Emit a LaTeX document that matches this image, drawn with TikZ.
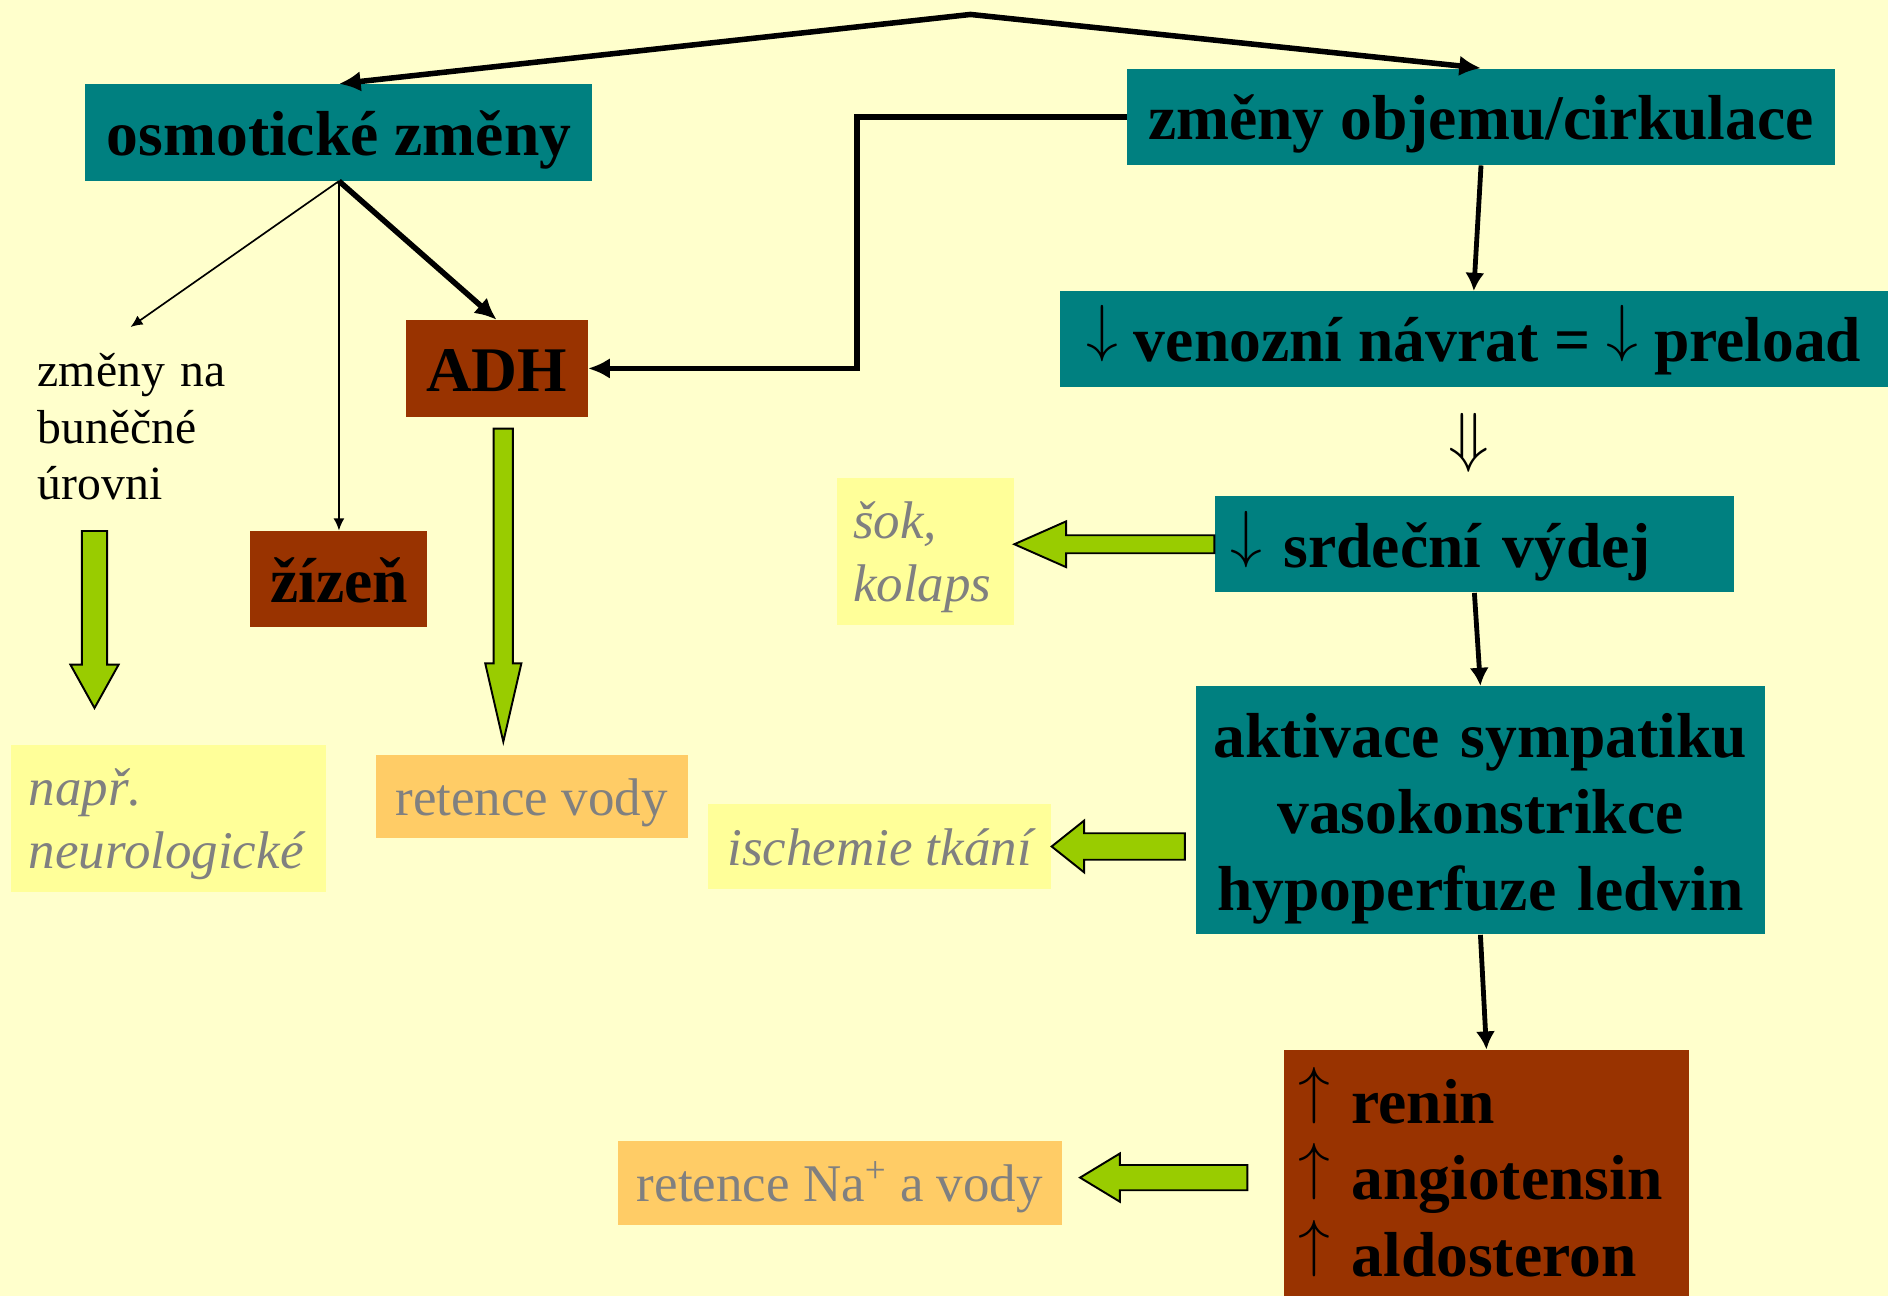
\documentclass[tikz,border=0pt]{standalone}
\usepackage{fontspec}
\setmainfont{Liberation Serif}
\usetikzlibrary{arrows.meta,calc}
\DeclareFontShape{OMS}{cmsy}{m}{n}{<-6>cmsy5<6-7>cmsy6<7-8>cmsy7<8-9>cmsy8<9-10>cmsy9<10->cmsy10}{}
\DeclareFontShape{OML}{cmm}{m}{it}{<-6>cmmi5<6-7>cmmi6<7-8>cmmi7<8-9>cmmi8<9-10>cmmi9<10-12>cmmi10<12->cmmi12}{}
\definecolor{bgyellow}{HTML}{FFFFCC}
\definecolor{boxteal}{HTML}{008080}
\definecolor{boxbrown}{HTML}{993300}
\definecolor{noteyellow}{HTML}{FFFF99}
\definecolor{noteorange}{HTML}{FFCC66}
\definecolor{notegray}{HTML}{808080}
\definecolor{arrowgreen}{HTML}{99CC00}
\newcommand{\arrdown}{\raisebox{0.19em}{$\downarrow$}}
\newcommand{\arrup}{\raisebox{0.19em}{$\uparrow$}}

\begin{document}
\begin{tikzpicture}
[every node/.style={inner sep=0pt},
 teal box/.style={fill=boxteal, font=\bfseries\fontsize{26.4}{31.75}\selectfont, text height=21pt, text depth=2pt, minimum height=40pt},
 brown box/.style={teal box, fill=boxbrown},
 note/.style={text=notegray, font=\fontsize{22}{26.25}\selectfont, text height=17pt, text depth=1.5pt},
 orange note/.style={note, fill=noteorange},
 italic note/.style={note, fill=noteyellow, font=\itshape\fontsize{22}{26.25}\selectfont},
 main line/.style={line width=2.3pt, >={Latex[length=9pt,width=8.5pt]}},
 chain line/.style={line width=2pt, >={Latex[length=7.5pt,width=8pt]}},
 thin line/.style={line width=0.7pt, >={Latex[length=5pt,width=4.5pt]}},
 fat arrow/.style n args={3}{draw=black, line width=0.8pt, fill=arrowgreen, line join=miter,
   to path={($(\tikztostart)!#1!90:(\tikztotarget)$) -- ($(\tikztotarget)!#3!(\tikztostart)!#1!90:(\tikztotarget)$) -- ($(\tikztotarget)!#3!(\tikztostart)!#2!90:(\tikztotarget)$) -- (\tikztotarget) -- ($(\tikztotarget)!#3!(\tikztostart)!#2!-90:(\tikztotarget)$) -- ($(\tikztotarget)!#3!(\tikztostart)!#1!-90:(\tikztotarget)$) -- ($(\tikztostart)!#1!-90:(\tikztotarget)$) -- cycle}}]
\useasboundingbox [fill=bgyellow] (0pt, 0pt) rectangle (784pt, -538pt);
\node (osm) [teal box, minimum width=210.5pt] at (140.75pt, -55pt) {osmotické změny};
\node (objem) [teal box, minimum width=294pt] at (615pt, -48.5pt) {změny objemu/cirkulace};
\node (adh) [brown box, minimum width=75.5pt] at (206.25pt, -153pt) {ADH};
\node (zizen) [brown box, minimum width=73.5pt] at (140.75pt, -240.5pt) {žízeň};
\node (venoz) [teal box, minimum width=344pt, minimum height=39.5pt] at (612pt, -140.75pt) {\arrdown{} venozní návrat = \arrdown{} preload};
\node (dbl) [font=\fontsize{27.6}{33}\selectfont] at (610pt, -184pt) {$\Downarrow$};
\node (srdecni) [teal box, minimum width=215.5pt, text width=202.5pt, align=left] at (612.25pt, -226pt) {\arrdown{} srdeční výdej};
\node (aktivace) [teal box, minimum width=236.5pt, minimum height=103pt, text width=236.5pt, align=center, text height=20pt, text depth=64pt] at (614.75pt, -336.5pt) {aktivace sympatiku\\vasokonstrikce\\hypoperfuze ledvin};
\node (renin) [brown box, minimum width=168.5pt, minimum height=102pt, text width=156pt, align=left, text height=20pt, text depth=61pt] at (617.25pt, -487pt) {\arrup{} renin\\\arrup{} angiotensin\\\arrup{} aldosteron};
\node (zmeny) [anchor=base west, text width=80pt, align=left, text height=14pt, font=\fontsize{19.8}{23.5}\selectfont] at (15.5pt, -160.5pt) {změny na\\buněčné\\úrovni};
\node (napr) [italic note, minimum width=131pt, minimum height=61pt, text width=116pt, align=left, text height=16pt, text depth=27pt] at (70pt, -340pt) {např.\\neurologické};
\node (retvody) [orange note, minimum width=129.5pt, minimum height=34.5pt] at (220.75pt, -330.75pt) {retence vody};
\node (sok) [italic note, minimum width=73.5pt, minimum height=61pt, text width=60pt, align=left, text height=16pt, text depth=27pt] at (384.25pt, -229pt) {šok,\\kolaps};
\node (ischemie) [italic note, minimum width=142.5pt, minimum height=35pt] at (365.25pt, -351.5pt) {ischemie tkání};
\node (retna) [orange note, minimum width=184.5pt, minimum height=34.5pt] at (348.75pt, -491.25pt) {retence Na\textsuperscript{+} a vody};
\coordinate (apex) at (403pt, -6pt);
\coordinate (celltail) at (39.25pt, -220.5pt);
\coordinate (celltip) at (39.25pt, -294pt);
\coordinate (adhtail) at (209pt, -178pt);
\coordinate (adhtip) at (209pt, -308pt);
\coordinate (soktip) at (sok.east |- srdecni.west);
\coordinate (ischtail) at (492pt, -351.5pt);
\coordinate (natail) at (518pt, -489pt);
\coordinate (natip) at (448.5pt, -489pt);
\draw [main line, <->] (osm.north) -- (apex) -- (objem.north);
\draw [main line, ->] (objem.west) -- ++(-112pt, 0pt) |- (adh.east);
\draw [main line, ->] (osm.south) -- (adh.north);
\draw [thin line, ->] (osm.south) -- (zizen.north);
\draw [thin line, ->] (osm.south) -- ([xshift=-1.5pt, yshift=10.5pt]zmeny.north);
\draw [chain line, ->] (objem.south) -- (venoz.north);
\draw [chain line, ->] (srdecni.south) -- (aktivace.north);
\draw [chain line, ->] (aktivace.south) -- (renin.north);
\draw [fat arrow={5.25pt}{10pt}{18pt}] (celltail) to (celltip);
\draw [fat arrow={4pt}{7.5pt}{32.5pt}] (adhtail) to (adhtip);
\draw [fat arrow={3.75pt}{9.5pt}{21.5pt}] (srdecni.west) to (soktip);
\draw [fat arrow={5.5pt}{10.75pt}{13.5pt}] (ischtail) to (ischemie.east);
\draw [fat arrow={5.25pt}{10pt}{16.5pt}] (natail) to (natip);
\end{tikzpicture}
\end{document}
